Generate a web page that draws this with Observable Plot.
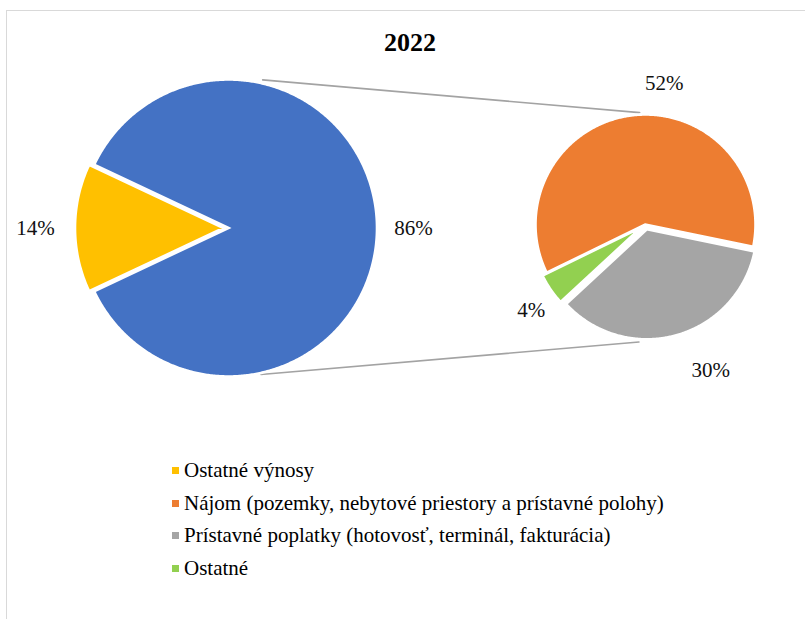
<!DOCTYPE html>
<html><head><meta charset="utf-8">
<script src="https://cdn.jsdelivr.net/npm/d3@7"></script>
<script src="https://cdn.jsdelivr.net/npm/@observablehq/plot@0.6"></script>
<style>
html,body{margin:0;padding:0;background:#fff;overflow:hidden;width:805px;height:619px;}
#frame{position:absolute;left:6px;top:10px;width:900px;height:700px;border-left:1.5px solid #d9d9d9;border-top:1.5px solid #d9d9d9;}
#title{position:absolute;left:0;width:820px;top:30px;text-align:center;font:bold 26px "Liberation Serif";line-height:1;color:#000;}
#chart{position:absolute;left:0;top:0;}
#legend{position:absolute;left:172px;top:454px;font:21px "Liberation Serif";color:#000;}
.row{height:32.7px;display:flex;align-items:center;white-space:nowrap;}
.sw{width:7px;height:7px;margin-right:5px;flex:none;}
</style>
</head><body>
<div id="frame"></div>
<div id="title"></div>
<div id="chart"></div>
<div id="legend"></div>
<script>
// ---- data ----
const title = "2022";
const categories = [
  "Ostatné výnosy",
  "Nájom (pozemky, nebytové priestory a prístavné polohy)",
  "Prístavné poplatky (hotovosť, terminál, fakturácia)",
  "Ostatné"
];
const values = [14, 52, 30, 4];
const colors = ["#FFC000", "#ED7D31", "#A5A5A5", "#92D050"];
const aggregateColor = "#4472C4";
const mainCount = 1; // categories shown directly in the first pie

// ---- layout ----
const W = 805, H = 420;
const deg = Math.PI / 180;
const pieL = {cx: 228, cy: 227.5, r: 148.5};
const pieR = {cx: 645, cy: 224, r: 110};
const explodeL = [0, 5];          // aggregate, then own slices
const explodeR = [0, 5, 5];
const secondStart = -116 * deg;
const labelL = [{da: 0, d: 185}, {da: 0, d: 188}];
const labelR = [{da: 14.8, d: 142}, {da: -8.5, d: 160}, {da: -2.6, d: 143}];

const total = d3.sum(values);
const fmt = v => Math.round(v / total * 100) + "%";

// first pie: aggregate slice centred on the right, then own categories
const aggValue = d3.sum(values.slice(mainCount));
const mainItems = [{name: "agg", value: aggValue, color: aggregateColor}]
  .concat(categories.slice(0, mainCount).map((c, i) => ({name: c, value: values[i], color: colors[i]})));
const aggAngle = aggValue / total * 2 * Math.PI;
const mainArcs = d3.pie().sort(null).value(d => d.value)
  .startAngle(Math.PI / 2 - aggAngle / 2).endAngle(Math.PI / 2 - aggAngle / 2 + 2 * Math.PI)(mainItems);

const secondItems = categories.slice(mainCount).map((c, i) => ({name: c, value: values[mainCount + i], color: colors[mainCount + i]}));
const secondArcs = d3.pie().sort(null).value(d => d.value)
  .startAngle(secondStart).endAngle(secondStart + 2 * Math.PI)(secondItems);

function centre(arc, pie, ex) {
  const mid = (arc.startAngle + arc.endAngle) / 2;
  return {x: pie.cx + ex * Math.sin(mid), y: pie.cy - ex * Math.cos(mid), mid};
}
function slicePts(arc, pie, ex, key) {
  const c = centre(arc, pie, ex);
  const pts = [{x: c.x, y: c.y}];
  const n = Math.max(3, Math.ceil((arc.endAngle - arc.startAngle) / (0.5 * deg)));
  for (let i = 0; i <= n; i++) {
    const a = arc.startAngle + (arc.endAngle - arc.startAngle) * i / n;
    pts.push({x: c.x + pie.r * Math.sin(a), y: c.y - pie.r * Math.cos(a)});
  }
  return pts.map(p => ({...p, key, color: arc.data.color}));
}
const slices = [];
mainArcs.forEach((a, i) => slices.push(...slicePts(a, pieL, explodeL[i], "L" + i)));
secondArcs.forEach((a, i) => slices.push(...slicePts(a, pieR, explodeR[i], "R" + i)));

const labels = [];
mainArcs.forEach((a, i) => {
  const c = centre(a, pieL, explodeL[i]);
  const ang = c.mid + labelL[i].da * deg;
  labels.push({x: c.x + labelL[i].d * Math.sin(ang), y: c.y - labelL[i].d * Math.cos(ang), text: fmt(a.data.value)});
});
secondArcs.forEach((a, i) => {
  const ang = (a.startAngle + a.endAngle) / 2 + labelR[i].da * deg;
  labels.push({x: pieR.cx + labelR[i].d * Math.sin(ang), y: pieR.cy - labelR[i].d * Math.cos(ang), text: fmt(a.data.value)});
});

// connector lines from the aggregate slice to the second pie
const pol = (p, a, d) => ({x: p.cx + d * Math.sin(a * deg), y: p.cy - d * Math.cos(a * deg)});
const grayC = centre(secondArcs[1], pieR, explodeR[1]);
const connectors = [
  {...pol(pieL, 13, pieL.r + 3.5), k: "t"}, {...pol(pieR, -3, pieR.r + 2), k: "t"},
  {...pol(pieL, 167.5, pieL.r + 1.5), k: "b"}, {...pol({cx: grayC.x, cy: grayC.y}, 184, pieR.r + 3), k: "b"}
];

const chart = Plot.plot({
  width: W, height: H,
  margin: 0,
  x: {domain: [0, W], range: [0, W], axis: null},
  y: {domain: [0, H], range: [0, H], axis: null},
  color: {type: "identity"},
  style: {background: "transparent", fontFamily: "Liberation Serif"},
  marks: [
    Plot.line(connectors, {x: "x", y: "y", z: "k", stroke: "#a3a3a3", strokeWidth: 1.6}),
    Plot.line(slices, {x: "x", y: "y", z: "key", fill: "color", stroke: "white", strokeWidth: 2.6,
      curve: "linear-closed", strokeLinejoin: "miter", strokeMiterlimit: 4}),
    Plot.text(labels, {x: "x", y: "y", text: "text", fontSize: 21, fill: "#111", fontFamily: "Liberation Serif"})
  ]
});
document.getElementById("chart").appendChild(chart);
document.getElementById("title").textContent = title;

const legend = document.getElementById("legend");
categories.forEach((c, i) => {
  const row = document.createElement("div");
  row.className = "row";
  row.innerHTML = `<span class="sw" style="background:${colors[i]}"></span><span>${c}</span>`;
  legend.appendChild(row);
});
</script>
</body></html>
